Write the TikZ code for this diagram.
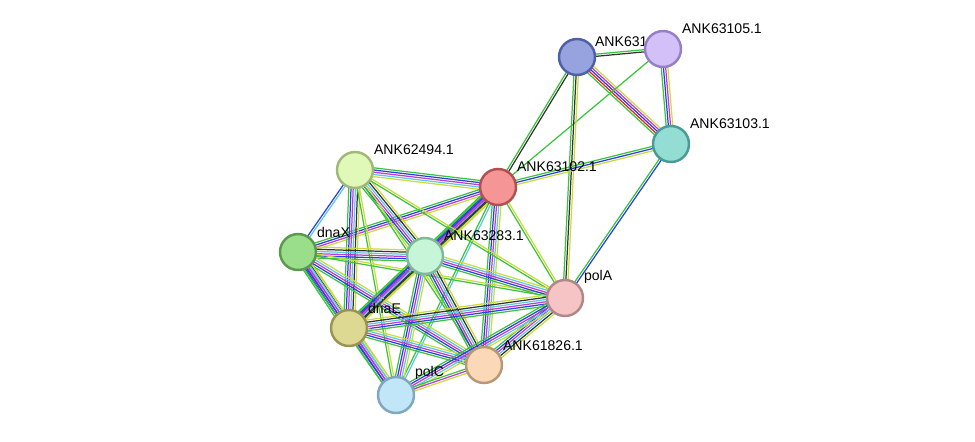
\documentclass[tikz,border=0pt]{standalone}
\usepackage{fontspec}
\setmainfont{Liberation Sans}
\usetikzlibrary{calc}
\definecolor{nb}{HTML}{3BC43B}
\definecolor{fu}{HTML}{E02020}
\definecolor{cc}{HTML}{2A3FE0}
\definecolor{ce}{HTML}{333333}
\definecolor{ex}{HTML}{C03AD0}
\definecolor{db}{HTML}{5BC8E8}
\definecolor{tm}{HTML}{C8DC3C}
% node colours
\definecolor{f04}{HTML}{97A3DE}\definecolor{b04}{HTML}{5060A8}
\definecolor{f05}{HTML}{D4C0F8}\definecolor{b05}{HTML}{9580C8}
\definecolor{f03}{HTML}{93DDD5}\definecolor{b03}{HTML}{4A9A96}
\definecolor{f02}{HTML}{F59595}\definecolor{b02}{HTML}{B05050}
\definecolor{f94}{HTML}{E0F8B8}\definecolor{b94}{HTML}{A0B878}
\definecolor{fdX}{HTML}{9ADD8A}\definecolor{bdX}{HTML}{5A9A4A}
\definecolor{f83}{HTML}{C6F5D8}\definecolor{b83}{HTML}{80B898}
\definecolor{fA}{HTML}{F6C4C4}\definecolor{bA}{HTML}{B08888}
\definecolor{fdE}{HTML}{DDD993}\definecolor{bdE}{HTML}{999450}
\definecolor{f26}{HTML}{FAD8B8}\definecolor{b26}{HTML}{B89878}
\definecolor{fC}{HTML}{C0E6F8}\definecolor{bC}{HTML}{80A6C0}
\tikzset{
  prot/.style={circle, inner sep=0pt, line width=1.4pt, minimum size=0.72cm},
  lab/.style={font=\footnotesize, anchor=south west, inner sep=1pt},
  ln/.style={line width=0.7pt}
}
\newcommand\lnk[4]{%
  \foreach \c [count=\i] in {#4}
  {
    \pgfmathsetmacro\o{(\i-(#3+1)/2)*1.25}
    \draw[ln,\c] ($(#1)!\o pt!90:(#2)$) -- ($(#2)!\o pt!-90:(#1)$);
  }
}
\begin{document}
\begin{tikzpicture}[x=0.02cm,y=-0.02cm]
\useasboundingbox (0,0) rectangle (975,441);
% centres
\coordinate (p04) at (577,57);
\coordinate (p05) at (663,49);
\coordinate (p03) at (671,144);
\coordinate (p02) at (498,187);
\coordinate (p94) at (355,170);
\coordinate (dX) at (298,252);
\coordinate (p83) at (425,256);
\coordinate (pA) at (565,298);
\coordinate (dE) at (349,328);
\coordinate (p26) at (484,365);
\coordinate (pC) at (396,395);
% links
\lnk{p04}{p05}{2}{ce,nb}
\lnk{p04}{p03}{5}{nb,fu,cc,ex,tm}
\lnk{p05}{p03}{4}{nb,cc,ex,tm}
\lnk{p04}{p02}{2}{nb,ce}
\lnk{p05}{p02}{1}{nb}
\lnk{p04}{pA}{3}{nb,ce,tm}
\lnk{p03}{p02}{3}{nb,cc,tm}
\lnk{p03}{pA}{2}{nb,cc}
\lnk{p02}{p94}{5}{nb,cc,ex,db,tm}
\lnk{p02}{dX}{4}{nb,cc,ex,tm}
\lnk{p02}{p83}{6}{nb,cc,ex,db,ce,tm}
\lnk{p02}{pA}{2}{nb,tm}
\lnk{p02}{dE}{5}{nb,cc,ex,ce,tm}
\lnk{p02}{p26}{5}{nb,cc,ex,db,tm}
\lnk{p02}{pC}{2}{nb,db}
\lnk{p94}{dX}{2}{cc,db}
\lnk{p94}{p83}{6}{nb,cc,ex,db,ce,tm}
\lnk{p94}{dE}{6}{nb,cc,ex,db,ce,tm}
\lnk{p94}{pA}{2}{nb,tm}
\lnk{p94}{p26}{2}{nb,tm}
\lnk{p94}{pC}{2}{nb,tm}
\lnk{dX}{p83}{6}{nb,cc,ex,db,ce,tm}
\lnk{dX}{dE}{6}{nb,cc,ex,db,ce,tm}
\lnk{dX}{pA}{2}{nb,tm}
\lnk{dX}{p26}{5}{nb,cc,ex,db,tm}
\lnk{dX}{pC}{5}{nb,cc,ex,db,tm}
\lnk{p83}{dE}{6}{nb,cc,ex,db,ce,tm}
\lnk{p83}{pA}{5}{nb,cc,ex,db,tm}
\lnk{p83}{p26}{6}{nb,cc,ex,db,ce,tm}
\lnk{p83}{pC}{5}{nb,cc,ex,db,tm}
\lnk{dE}{pA}{6}{nb,cc,ex,db,ce,tm}
\lnk{dE}{p26}{5}{nb,cc,ex,db,tm}
\lnk{dE}{pC}{5}{nb,cc,ex,db,tm}
\lnk{pA}{p26}{6}{nb,cc,ex,db,ce,tm}
\lnk{pA}{pC}{5}{nb,cc,ex,db,tm}
\lnk{p26}{pC}{3}{nb,ex,tm}
% labels
\node[lab] (l04) at (593,49) {ANK63104.1};
\node[lab] (l05) at (680,36) {ANK63105.1};
\node[lab] (l03) at (688,131) {ANK63103.1};
\node[lab] (l02) at (515,174) {ANK63102.1};
\node[lab] (l94) at (372,157) {ANK62494.1};
\node[lab] (ldX) at (315,240) {dnaX};
\node[lab] (l83) at (442,243) {ANK63283.1};
\node[lab] (lA) at (582,286) {polA};
\node[lab] (ldE) at (366,316) {dnaE};
\node[lab] (l26) at (501,353) {ANK61826.1};
\node[lab] (lC) at (413,382) {polC};
% proteins
\node[prot, draw=b04, fill=f04] (n04) at (p04) {};
\node[prot, draw=b05, fill=f05] (n05) at (p05) {};
\node[prot, draw=b03, fill=f03] (n03) at (p03) {};
\node[prot, draw=b02, fill=f02] (n02) at (p02) {};
\node[prot, draw=b94, fill=f94] (n94) at (p94) {};
\node[prot, draw=bdX, fill=fdX] (ndX) at (dX) {};
\node[prot, draw=b83, fill=f83] (n83) at (p83) {};
\node[prot, draw=bA, fill=fA] (nA) at (pA) {};
\node[prot, draw=bdE, fill=fdE] (ndE) at (dE) {};
\node[prot, draw=b26, fill=f26] (n26) at (p26) {};
\node[prot, draw=bC, fill=fC] (nC) at (pC) {};
\end{tikzpicture}
\end{document}
